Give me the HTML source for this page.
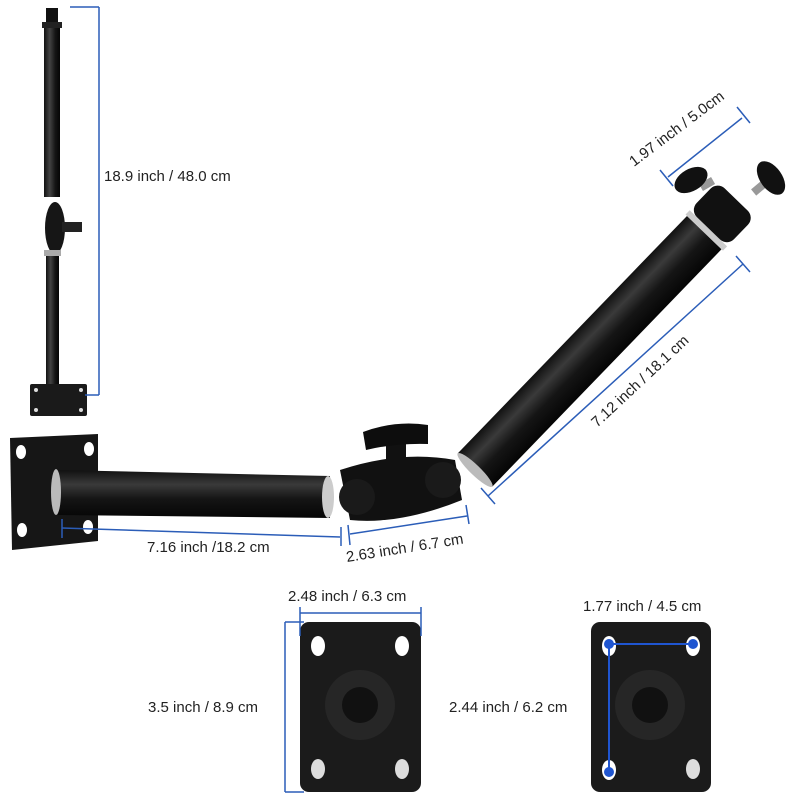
<!DOCTYPE html>
<html><head><style>
body{margin:0;background:#fff}
svg{display:block}
text{font-family:"Liberation Sans",sans-serif;font-size:15px;fill:#222}
</style></head><body>
<svg width="800" height="800" viewBox="0 0 800 800" xmlns="http://www.w3.org/2000/svg">
<defs>
<linearGradient id="tv" x1="0" y1="0" x2="0" y2="1"><stop offset="0" stop-color="#111"/><stop offset=".3" stop-color="#3a3a3a"/><stop offset=".6" stop-color="#151515"/><stop offset="1" stop-color="#050505"/></linearGradient>
<linearGradient id="th" x1="0" y1="0" x2="1" y2="0"><stop offset="0" stop-color="#111"/><stop offset=".35" stop-color="#444"/><stop offset=".7" stop-color="#151515"/><stop offset="1" stop-color="#050505"/></linearGradient>
</defs>
<!-- small pole -->
<rect x="44" y="25" width="16" height="172" fill="url(#th)"/>
<rect x="46" y="8" width="12" height="20" fill="#111"/>
<rect x="42" y="22" width="20" height="6" fill="#222"/>
<rect x="46" y="255" width="13" height="130" fill="url(#th)"/>
<ellipse cx="55" cy="228" rx="10" ry="26" fill="#161616"/>
<rect x="62" y="222" width="20" height="10" fill="#222"/>
<rect x="44" y="250" width="17" height="6" fill="#aaa"/>
<rect x="30" y="384" width="57" height="32" rx="2" fill="#1a1a1a"/>
<circle cx="36" cy="390" r="2" fill="#ddd"/><circle cx="81" cy="390" r="2" fill="#ddd"/><circle cx="36" cy="410" r="2" fill="#ddd"/><circle cx="81" cy="410" r="2" fill="#ddd"/>
<g stroke="#2b5db8" stroke-width="1.5" fill="none">
<line x1="99" y1="7" x2="99" y2="395"/><line x1="70" y1="7" x2="99" y2="7"/><line x1="85" y1="395" x2="99" y2="395"/>
</g>
<text x="104" y="181">18.9 inch / 48.0 cm</text>

<!-- main arm -->
<path d="M10 438 L98 434 L98 541 L12 550 Z" fill="#161616"/>
<ellipse cx="21" cy="452" rx="5" ry="7" fill="#fff"/><ellipse cx="89" cy="449" rx="5" ry="7" fill="#fff"/>
<ellipse cx="22" cy="530" rx="5" ry="7" fill="#fff"/><ellipse cx="88" cy="527" rx="5" ry="7" fill="#fff"/>
<path d="M58 470 L330 476 L330 518 L58 515 Z" fill="url(#tv)"/>
<ellipse cx="56" cy="492" rx="5" ry="23" fill="#bbb"/>
<ellipse cx="328" cy="497" rx="6" ry="21" fill="#ccc"/>
<path d="M340 470 Q400 450 455 460 L462 500 Q400 525 350 520 Z" fill="#111"/>
<circle cx="357" cy="497" r="18" fill="#1a1a1a"/>
<circle cx="443" cy="480" r="18" fill="#1a1a1a"/>
<rect x="386" y="440" width="20" height="24" fill="#111"/>
<path d="M363 432 Q395 420 428 425 L428 444 Q395 443 366 450 Z" fill="#0d0d0d"/>
<!-- upper tube -->
<g transform="translate(475,470) rotate(-46)">
<rect x="0" y="-24" width="330" height="48" fill="url(#tv)"/>
<ellipse cx="0" cy="0" rx="5" ry="24" fill="#bbb"/>
<rect x="330" y="-26" width="6" height="52" fill="#ccc"/>
<rect x="336" y="-26" width="40" height="52" rx="10" fill="#111"/>
</g>
<rect x="700" y="180" width="14" height="8" fill="#999" transform="rotate(-30 707 184)"/>
<rect x="752" y="184" width="14" height="8" fill="#999" transform="rotate(-40 759 188)"/>
<ellipse cx="691" cy="180" rx="18" ry="11" transform="rotate(-30 691 180)" fill="#111"/>
<ellipse cx="771" cy="178" rx="11" ry="19" transform="rotate(-35 771 178)" fill="#111"/>
<!-- dims main -->
<g stroke="#2b5db8" stroke-width="1.5" fill="none">
<line x1="62" y1="528" x2="340" y2="537"/><line x1="62" y1="519" x2="62" y2="538"/><line x1="341" y1="527" x2="341" y2="546"/>
<line x1="350" y1="534" x2="467" y2="516"/><line x1="348" y1="525" x2="350" y2="545"/><line x1="466" y1="505" x2="469" y2="524"/>
<line x1="488" y1="496" x2="743" y2="264"/><line x1="481" y1="488" x2="495" y2="504"/><line x1="736" y1="256" x2="750" y2="272"/>
<line x1="668" y1="177" x2="742" y2="118"/><line x1="660" y1="170" x2="673" y2="186"/><line x1="737" y1="107" x2="750" y2="123"/>
</g>
<text x="147" y="552">7.16 inch /18.2 cm</text>
<text transform="translate(347,562) rotate(-9)">2.63 inch / 6.7 cm</text>
<text transform="translate(597,428) rotate(-43)">7.12 inch / 18.1 cm</text>
<text transform="translate(634,167) rotate(-37)">1.97 inch / 5.0cm</text>

<!-- plate 1 -->
<rect x="300" y="622" width="121" height="170" rx="9" fill="#1b1b1b"/>
<ellipse cx="318" cy="646" rx="7" ry="10" fill="#fff"/><ellipse cx="402" cy="646" rx="7" ry="10" fill="#fff"/>
<ellipse cx="318" cy="769" rx="7" ry="10" fill="#ddd"/><ellipse cx="402" cy="769" rx="7" ry="10" fill="#ddd"/>
<circle cx="360" cy="705" r="35" fill="#262626"/><circle cx="360" cy="705" r="18" fill="#111"/>
<g stroke="#2b5db8" stroke-width="1.5" fill="none">
<line x1="300" y1="613" x2="421" y2="613"/><line x1="300" y1="607" x2="300" y2="636"/><line x1="421" y1="607" x2="421" y2="636"/>
<line x1="285" y1="622" x2="285" y2="792"/><line x1="285" y1="622" x2="304" y2="622"/><line x1="285" y1="792" x2="304" y2="792"/>
</g>
<text x="288" y="601">2.48 inch / 6.3 cm</text>
<text x="148" y="712">3.5 inch / 8.9 cm</text>

<!-- plate 2 -->
<rect x="591" y="622" width="120" height="170" rx="9" fill="#1b1b1b"/>
<ellipse cx="609" cy="646" rx="7" ry="10" fill="#fff"/><ellipse cx="693" cy="646" rx="7" ry="10" fill="#fff"/>
<ellipse cx="609" cy="770" rx="7" ry="10" fill="#fff"/><ellipse cx="693" cy="769" rx="7" ry="10" fill="#ddd"/>
<circle cx="650" cy="705" r="35" fill="#262626"/><circle cx="650" cy="705" r="18" fill="#111"/>
<g stroke="#1f55d0" stroke-width="2" fill="none"><polyline points="693,644 609,644 609,772"/></g>
<circle cx="609" cy="644" r="5" fill="#1f55d0"/><circle cx="693" cy="644" r="5" fill="#1f55d0"/><circle cx="609" cy="772" r="5" fill="#1f55d0"/>
<text x="583" y="611">1.77 inch / 4.5 cm</text>
<text x="449" y="712">2.44 inch / 6.2 cm</text>
</svg>
</body></html>
